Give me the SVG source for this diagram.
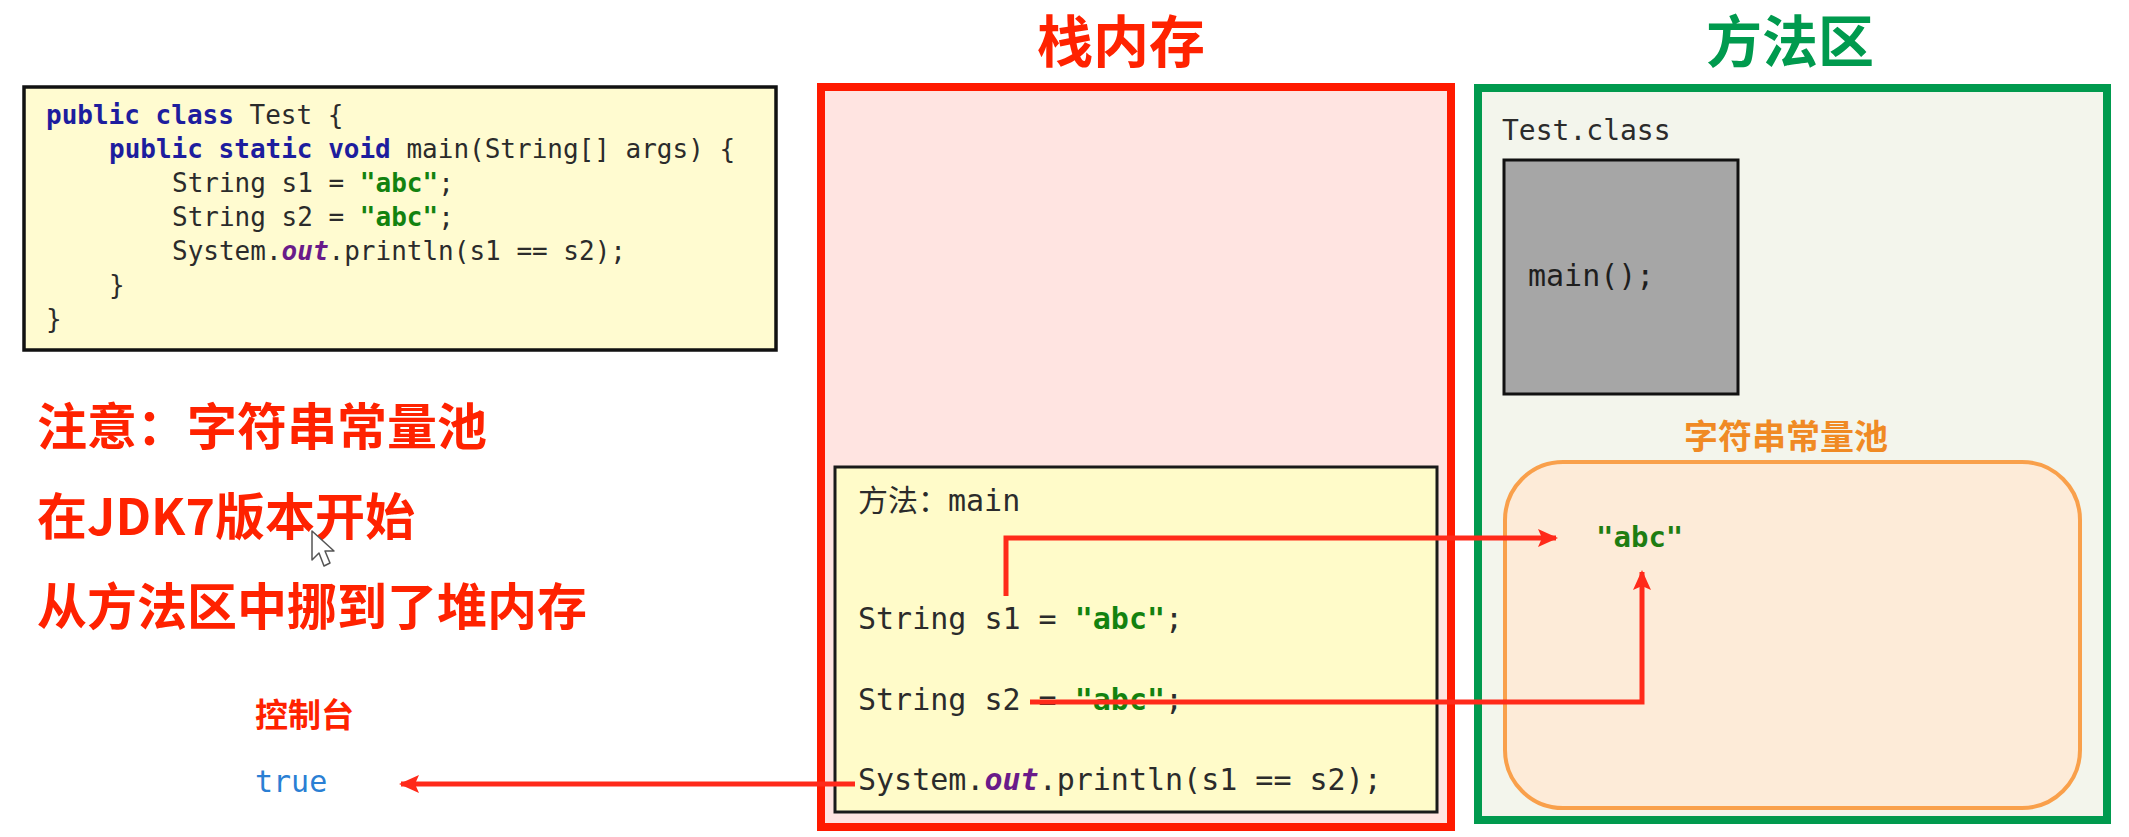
<svg xmlns="http://www.w3.org/2000/svg" width="2129" height="837" viewBox="0 0 2129 837">
<defs>
<style>
.mono{font-family:"DejaVu Sans Mono","Liberation Mono","Noto Sans CJK SC",monospace;}
.code{font-size:26px;fill:#2b2b2b;}
.kw{fill:#1d1d9e;font-weight:bold;}
.str{fill:#13820f;font-weight:bold;}
.fld{fill:#6a1b8a;font-weight:bold;font-style:italic;}
.stk{font-size:30px;fill:#2b2b2b;}
.cjk{font-family:"Noto Sans CJK SC","Noto Sans",sans-serif;font-weight:bold;}
.note{font-size:50px;fill:#ff2200;}
.conn{fill:none;stroke:#ff2a1a;stroke-width:5;}
</style>
<marker id="ah" viewBox="0 0 20 18" refX="18" refY="9" markerWidth="20" markerHeight="18" markerUnits="userSpaceOnUse" orient="auto">
<path d="M0,0 L20,9 L0,18 L4,9 Z" fill="#ff2a1a"/>
</marker>
</defs>
<rect width="2129" height="837" fill="#ffffff"/>

<g id="code">
<rect x="24" y="87" width="752" height="263" fill="#fffbd0" stroke="#111" stroke-width="3.5"/>
<text class="mono code" x="46" y="124"><tspan class="kw">public class</tspan> Test {</text>
<text class="mono code" x="109" y="158"><tspan class="kw">public static void</tspan> main(String[] args) {</text>
<text class="mono code" x="172" y="192">String s1 = <tspan class="str">"abc"</tspan>;</text>
<text class="mono code" x="172" y="226">String s2 = <tspan class="str">"abc"</tspan>;</text>
<text class="mono code" x="172" y="260">System.<tspan class="fld">out</tspan>.println(s1 == s2);</text>
<text class="mono code" x="109" y="294">}</text>
<text class="mono code" x="46" y="328">}</text>
</g>

<g id="notes">
<text class="cjk note" x="37" y="445">注意：字符串常量池</text>
<text class="cjk note" x="37" y="535">在JDK7版本开始</text>
<text class="cjk note" x="37" y="625">从方法区中挪到了堆内存</text>
</g>

<g id="cursor">
<path d="M312,531 L312,560 L319,553 L324,566 L330,563 L325,551 L334,551 Z" fill="#ffffff" stroke="#555" stroke-width="1.5" stroke-linejoin="round"/>
</g>

<g id="console">
<text class="cjk" x="255" y="727" font-size="33" fill="#ff2200">控制台</text>
<text class="mono" x="255" y="792" font-size="30" fill="#2a7fd4">true</text>
</g>

<g id="stack">
<text class="cjk" x="1121" y="62" font-size="56" fill="#ff2200" text-anchor="middle">栈内存</text>
<rect x="821" y="87" width="630" height="740" fill="#ffe4e1" stroke="#ff1a00" stroke-width="8"/>
</g>

<g id="frame-main">
<rect x="835" y="467" width="602" height="345" fill="#fffbc9" stroke="#1a1a1a" stroke-width="3"/>
<text class="mono stk" x="858" y="511">方法：main</text>
<text class="mono stk" x="858" y="629">String s1 = <tspan class="str">"abc"</tspan>;</text>
<text class="mono stk" x="858" y="710">String s2 = <tspan class="str">"abc"</tspan>;</text>
<text class="mono stk" x="858" y="790">System.<tspan class="fld">out</tspan>.println(s1 == s2);</text>
</g>

<g id="method-area">
<text class="cjk" x="1790" y="62" font-size="56" fill="#009a4e" text-anchor="middle">方法区</text>
<rect x="1478" y="88" width="629" height="732" fill="#f3f5ec" stroke="#009a4e" stroke-width="8"/>
<text class="mono" x="1502" y="140" font-size="28" fill="#2b2b2b">Test.class</text>
</g>

<g id="main-method">
<rect x="1504" y="160" width="234" height="234" fill="#a6a6a6" stroke="#111" stroke-width="3"/>
<text class="mono" x="1528" y="286" font-size="30" fill="#1e1e1e">main();</text>
</g>

<g id="string-pool">
<text class="cjk" x="1786" y="449" font-size="34" fill="#f08a24" text-anchor="middle">字符串常量池</text>
<rect x="1505" y="462" width="575" height="346" rx="58" ry="58" fill="#fdebd8" stroke="#f9a04b" stroke-width="4"/>
<text class="mono" x="1596" y="547" font-size="29" font-weight="bold" fill="#1e7d12">"abc"</text>
</g>

<g id="connectors">
<path class="conn" d="M1006,596 V538 H1556" marker-end="url(#ah)"/>
<path class="conn" d="M1030,702 H1642 V572" marker-end="url(#ah)"/>
<path class="conn" d="M855,784 H401" marker-end="url(#ah)"/>
</g>
</svg>
